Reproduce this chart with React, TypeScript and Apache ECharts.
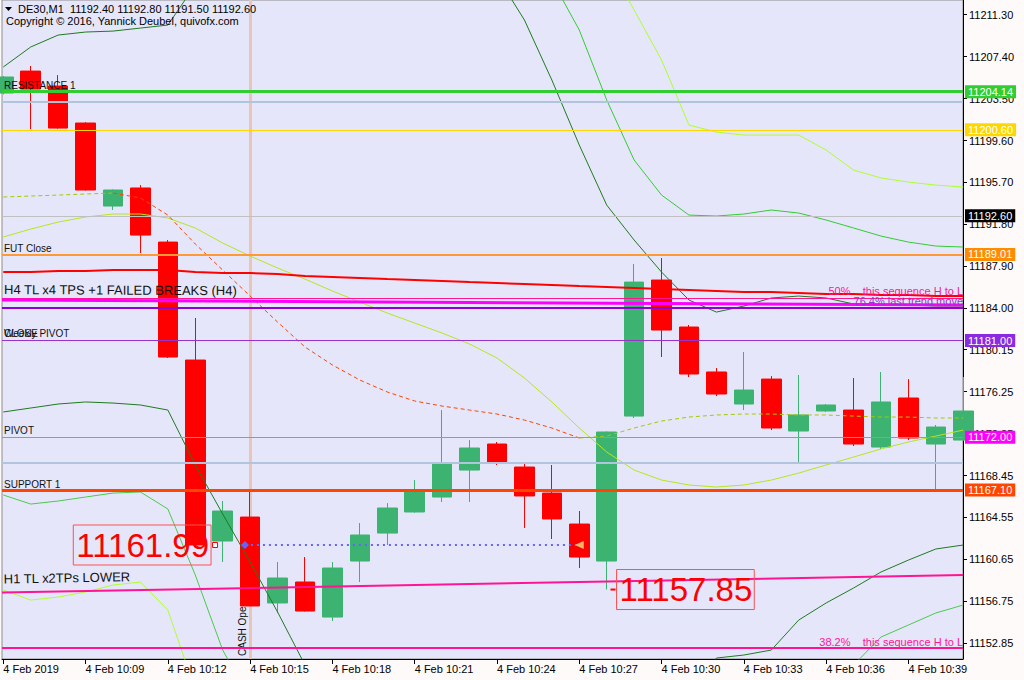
import React, { useEffect, useRef } from "react";
import * as echarts from "echarts";

const FONT = '"Liberation Sans", Arial, Helvetica, sans-serif';

// ---------- axes ----------
const xTickIndex = [0, 3, 6, 9, 12, 15, 18, 21, 24, 27, 30, 33];
const xTickLabels = [
  "4 Feb 2019", "4 Feb 10:09", "4 Feb 10:12", "4 Feb 10:15", "4 Feb 10:18", "4 Feb 10:21",
  "4 Feb 10:24", "4 Feb 10:27", "4 Feb 10:30", "4 Feb 10:33", "4 Feb 10:36", "4 Feb 10:39",
];
const yTickValues = [
  11152.85, 11156.75, 11160.65, 11164.55, 11168.45, 11172.35, 11176.25, 11180.15,
  11184.0, 11187.9, 11191.8, 11195.7, 11199.6, 11203.5, 11207.4, 11211.3,
];
const X_MIN = -0.047;
const X_MAX = 34.99;
const Y_MIN = 11151.39;
const Y_MAX = 11212.67;

// ---------- M1 candles (10:06 .. 10:41) ----------
const opens = [
  11204.02, 11206.06, 11204.67, 11201.23, 11193.51, 11195.19, 11190.16, 11179.19, 11162.36, 11164.59,
  11156.6, 11158.55, 11155.29, 11160.5, 11163.1, 11165.06, 11166.45, 11168.96, 11171.38, 11169.24,
  11166.82, 11163.94, 11160.5, 11173.98, 11186.63, 11182.26, 11178.08, 11175.1, 11177.42, 11172.59,
  11174.45, 11174.54, 11171.1, 11175.66, 11171.38, 11171.75,
];
const closes = [
  11205.51, 11204.39, 11200.76, 11195.0, 11195.0, 11190.81, 11179.47, 11161.99, 11165.15, 11156.32,
  11158.92, 11155.85, 11159.85, 11162.92, 11165.43, 11167.01, 11169.61, 11171.01, 11169.71, 11166.55,
  11164.41, 11160.87, 11172.5, 11186.44, 11181.98, 11177.89, 11176.03, 11176.4, 11172.87, 11174.08,
  11175.01, 11171.38, 11175.29, 11171.94, 11172.96, 11174.45,
];
const lows = [
  11203.9, 11200.67, 11200.7, 11194.95, 11193.14, 11189.14, 11179.38, 11161.8, 11160.41, 11156.3,
  11155.67, 11155.8, 11154.92, 11158.55, 11161.99, 11165.0, 11165.99, 11165.99, 11169.43, 11163.57,
  11162.55, 11159.85, 11157.85, 11173.8, 11179.47, 11177.61, 11175.84, 11174.54, 11172.68, 11169.61,
  11174.36, 11171.19, 11170.92, 11171.75, 11167.01, 11171.7,
];
const highs = [
  11205.6, 11206.53, 11205.69, 11201.3, 11195.05, 11195.46, 11190.35, 11183.1, 11166.08, 11167.01,
  11160.41, 11160.87, 11160.41, 11164.03, 11165.89, 11168.03, 11174.54, 11171.75, 11171.57, 11169.71,
  11169.43, 11165.15, 11172.55, 11188.12, 11188.68, 11182.45, 11178.45, 11179.94, 11177.7, 11177.8,
  11175.1, 11177.52, 11178.08, 11177.42, 11173.15, 11177.61,
];

// ---------- indicator lines (one value per bar) ----------
const bandDarkUpper = [
  11206.44, 11208.3, 11209.41, 11209.69, 11209.78, 11210.06, 11210.34, 11214.06, 11218.25, 11221.97,
  11224.76, 11226.62, 11227.55, 11228.01, 11227.55, 11226.62, 11224.76, 11221.04, 11214.9, 11210.81,
  11205.23, 11199.18, 11193.6, 11190.35, 11187.37, 11184.77, 11183.65, 11184.21, 11184.96, 11185.14,
  11184.96, 11184.4, 11184.31, 11184.31, 11184.21, 11184.21,
];
const bandMidUpper = [
  11215.46, 11216.39, 11217.32, 11217.78, 11218.25, 11219.18, 11221.04, 11224.76, 11228.47, 11231.26,
  11233.12, 11234.05, 11234.52, 11234.52, 11234.05, 11233.12, 11231.26, 11228.47, 11223.83, 11219.18,
  11214.53, 11209.88, 11203.37, 11197.79, 11194.53, 11192.67, 11192.58, 11192.77, 11193.14, 11192.86,
  11192.21, 11191.47, 11190.72, 11190.16, 11189.79, 11189.7,
];
const bandLightUpper = [
  11218.25, 11219.18, 11220.11, 11221.04, 11221.97, 11222.9, 11224.76, 11228.47, 11232.19, 11234.98,
  11236.84, 11237.77, 11238.24, 11238.24, 11237.77, 11236.84, 11235.45, 11233.59, 11230.8, 11227.55,
  11223.83, 11220.11, 11216.39, 11211.74, 11207.09, 11201.04, 11200.39, 11200.11, 11200.11, 11200.11,
  11198.72, 11196.86, 11196.12, 11195.74, 11195.46, 11195.28,
];
const bandDarkLower = [
  11174.36, 11174.73, 11175.1, 11175.29, 11175.19, 11175.01, 11174.54, 11169.43, 11164.87, 11160.41,
  11155.76, 11150.83, 11145.72, 11141.07, 11137.35, 11134.56, 11132.7, 11131.77, 11131.3, 11131.3,
  11131.77, 11132.7, 11138.28, 11142.0, 11144.79, 11148.51, 11151.48, 11151.76, 11152.22, 11155.01,
  11156.6, 11157.99, 11159.48, 11160.59, 11161.62, 11161.99,
];
const bandMidLower = [
  11166.64, 11165.8, 11166.08, 11166.45, 11166.82, 11166.92, 11165.34, 11159.2, 11152.22, 11147.58,
  11143.86, 11140.14, 11137.35, 11135.49, 11134.09, 11133.16, 11132.7, 11132.7, 11133.16, 11133.63,
  11134.56, 11135.49, 11138.28, 11140.14, 11142.0, 11143.86, 11145.72, 11147.11, 11148.51, 11149.43,
  11150.36, 11150.83, 11153.43, 11154.55, 11155.67, 11156.41,
];
const bandLightLower = [
  11157.8, 11156.87, 11157.15, 11157.62, 11158.27, 11158.55, 11155.94, 11148.51, 11142.0, 11138.28,
  11135.49, 11133.63, 11132.23, 11131.3, 11130.84, 11130.37, 11130.37, 11130.84, 11131.3, 11131.77,
  11132.7, 11133.63, 11134.56, 11135.49, 11136.42, 11137.35, 11138.28, 11139.21, 11140.14, 11141.07,
  11142.0, 11142.93, 11143.86, 11144.79, 11145.72, 11146.18,
];
const slowMA = [
  11190.63, 11191.37, 11192.02, 11192.49, 11192.77, 11192.77, 11192.4, 11191.47, 11190.07, 11188.86,
  11187.75, 11186.72, 11185.61, 11184.58, 11183.56, 11182.63, 11181.7, 11180.68, 11179.38, 11177.52,
  11175.29, 11172.87, 11170.64, 11168.96, 11168.03, 11167.57, 11167.38, 11167.57, 11168.03, 11168.68,
  11169.43, 11170.17, 11170.92, 11171.57, 11172.12, 11172.68,
];
const fastMA = [
  11194.35, 11194.44, 11194.53, 11194.63, 11194.72, 11194.26, 11192.67, 11189.98, 11187.56, 11185.14,
  11182.72, 11180.4, 11178.73, 11177.33, 11176.22, 11175.38, 11174.91, 11174.54, 11174.17, 11173.61,
  11172.87, 11171.94, 11172.12, 11172.87, 11173.52, 11173.89, 11174.08, 11174.17, 11174.17, 11174.08,
  11174.08, 11173.98, 11173.89, 11173.89, 11173.8, 11173.8,
];
const fastMAFallFrom = 4;
const fastMAFallTo = 21;
const redMA = [
  11187.37, 11187.37, 11187.47, 11187.47, 11187.56, 11187.56, 11187.56, 11187.37, 11187.28, 11187.28,
  11187.19, 11187.0, 11186.91, 11186.82, 11186.72, 11186.63, 11186.54, 11186.44, 11186.35, 11186.26,
  11186.17, 11186.07, 11185.98, 11185.89, 11185.79, 11185.7, 11185.61, 11185.51, 11185.51, 11185.42,
  11185.33, 11185.33, 11185.24, 11185.24, 11185.14, 11185.14,
];

// ---------- levels / objects ----------
const resistance1 = 11204.14;
const steelLevelHigh = 11203.18;
const goldLevel = 11200.6;
const bidPrice = 11192.6;
const futClose = 11189.01;
const fib50 = 11184.96;
const h4TrendLine = [11184.77, 11184.3];
const fib764 = 11184.07;
const weeklyPivot = 11181.0;
const pivot = 11172.0;
const steelLevelLow = 11169.61;
const support1 = 11167.1;
const h1TrendLine = [11157.57, 11159.2];
const fib382 = 11152.41;
const cashOpenIndex = 9;
const lowLabelA = { index: 7.72, price: 11161.99 };
const lowLabelB = { index: 22.23, price: 11157.85 };
const dottedRange = [8.81, 21.0];

const headerSymbol = "DE30,M1";
const headerOHLC = [11192.4, 11192.8, 11191.5, 11192.6];
const copyright = "Copyright \u00a9 2016, Yannick Deubel, quivofx.com";

function pairs(vals: (number | null)[]) {
  return vals.map((v, i) => [i, v]);
}

function lineSeries(name: string, vals: (number | null)[], color: string, width: number, type: any = "solid") {
  return {
    type: "line",
    name,
    data: pairs(vals),
    symbol: "none",
    showSymbol: false,
    connectNulls: false,
    clip: true,
    z: 3,
    lineStyle: { color, width, type },
    silent: true,
  };
}

function leftLabel(text: string, size = 10, dy = 1) {
  return {
    show: true,
    position: "insideStartTop",
    formatter: text,
    color: "#111",
    fontSize: size,
    fontFamily: FONT,
    distance: [2, dy],
  };
}

function boxLabel(value: number, bg: string) {
  return {
    show: true,
    position: "end",
    formatter: value.toFixed(2),
    color: "#ffffff",
    backgroundColor: bg,
    fontSize: 11,
    fontFamily: FONT,
    lineHeight: 12,
    padding: [1, 3, 0, 3],
    distance: 2,
  };
}

function rightText(text: string, color: string, dy = 1) {
  return {
    show: true,
    position: "insideEndTop",
    formatter: text,
    color,
    fontSize: 11,
    fontFamily: FONT,
    distance: [0, dy],
  };
}

function buildOption() {
  const candleData = opens.map((o, i) => [i, o, closes[i], lows[i], highs[i]]);
  const fallMA = fastMA.map((v, i) => (i >= fastMAFallFrom && i <= fastMAFallTo ? v : null));
  const riseMA = fastMA.map((v, i) => (i <= fastMAFallFrom || i >= fastMAFallTo ? v : null));

  const hl = (value: number, color: string, width: number, label?: any) => ({
    yAxis: value,
    lineStyle: { color, width, type: "solid" },
    label: label || { show: false },
  });

  const levelData: any[] = [
    hl(steelLevelHigh, "#B0C4DE", 2),
    hl(goldLevel, "#FFD700", 1),
    hl(goldLevel, "#FFD700", 1, boxLabel(goldLevel, "#FFD700")),
    hl(bidPrice, "#C0C0C0", 1, boxLabel(bidPrice, "#000000")),
    hl(resistance1, "#32CD32", 3, leftLabel("RESISTANCE 1")),
    hl(resistance1, "#32CD32", 3, boxLabel(resistance1, "#32CD32")),
    hl(futClose, "#FF9933", 2, leftLabel("FUT Close")),
    hl(futClose, "#FF9933", 2, boxLabel(futClose, "#FF8C00")),
    hl(fib50, "#FF1493", 1, rightText("50%    this sequence H to L", "#FF1493", 1)),
    [
      {
        coord: [X_MIN, h4TrendLine[0]],
        lineStyle: { color: "#FF00FF", width: 3, type: "solid" },
        label: leftLabel("H4 TL x4 TPS +1 FAILED BREAKS (H4)", 13, 4),
      },
      { coord: [X_MAX, h4TrendLine[1]] },
    ],
    hl(fib764, "#9400D3", 2, rightText("76.4% last trend move", "#9932CC", 1)),
    hl(weeklyPivot, "#9932CC", 1, leftLabel("Weekly PIVOT", 10, 2)),
    hl(weeklyPivot, "#9932CC", 1, leftLabel("CLOSE", 10, 2)),
    hl(weeklyPivot, "#9932CC", 1, boxLabel(weeklyPivot, "#8A2BE2")),
    hl(pivot, "#E066E0", 1, leftLabel("PIVOT", 10, 2)),
    hl(pivot, "#E066E0", 1, boxLabel(pivot, "#FF00FF")),
    hl(steelLevelLow, "#B0C4DE", 2),
    hl(support1, "#FF4500", 3, leftLabel("SUPPORT 1", 10, 1)),
    hl(support1, "#FF4500", 3, boxLabel(support1, "#FF4500")),
    [
      {
        coord: [X_MIN, h1TrendLine[0]],
        lineStyle: { color: "#FF1493", width: 2, type: "solid" },
        label: leftLabel("H1 TL x2TPs LOWER", 13, 7),
      },
      { coord: [X_MAX, h1TrendLine[1]] },
    ],
    hl(fib382, "#FF1493", 2, rightText("38.2%    this sequence H to L", "#FF1493", 1)),
    [
      {
        coord: [dottedRange[0], lowLabelA.price],
        symbol: "diamond",
        symbolSize: 8,
        lineStyle: { color: "#6464FF", width: 2, type: [2, 4] },
        itemStyle: { color: "#3030FF" },
        label: { show: false },
      },
      { coord: [dottedRange[1], lowLabelA.price], symbol: "none" },
    ],
  ];

  const series: any[] = [
    {
      type: "line",
      name: "cash-open",
      data: [],
      z: 1,
      silent: true,
      markLine: {
        z: 1,
        silent: true,
        symbol: ["none", "none"],
        animation: false,
        data: [
          {
            xAxis: cashOpenIndex,
            lineStyle: { color: "#E9C6B4", width: 3, type: "solid" },
            label: {
              show: true,
              position: "insideStartTop",
              formatter: "CASH Open",
              color: "#111",
              fontSize: 10,
              fontFamily: FONT,
              distance: [3, 3],
            },
          },
        ],
      },
    },
    {
      type: "candlestick",
      name: "DE30",
      data: candleData,
      barWidth: 20,
      clip: true,
      z: 2,
      silent: true,
      itemStyle: {
        color: "#3CB371",
        color0: "#FF0000",
        borderColor: "#3CB371",
        borderColor0: "#FF0000",
        borderWidth: 1,
      },
    },
    lineSeries("band-light-upper", bandLightUpper, "#ADFF2F", 1),
    lineSeries("band-mid-upper", bandMidUpper, "#32CD32", 1),
    lineSeries("band-dark-upper", bandDarkUpper, "#1E7B1E", 1),
    lineSeries("band-dark-lower", bandDarkLower, "#1E7B1E", 1),
    lineSeries("band-mid-lower", bandMidLower, "#4CC94C", 1),
    lineSeries("band-light-lower", bandLightLower, "#ADFF2F", 1),
    lineSeries("slow-ma", slowMA, "#B5E61D", 1),
    lineSeries("fast-ma-fall", fallMA, "#FF4500", 1, [4, 3]),
    lineSeries("fast-ma-rise", riseMA, "#A8C800", 1, [4, 3]),
    lineSeries("red-ma", redMA, "#FF0000", 2),
    {
      type: "line",
      name: "levels",
      data: [],
      z: 4,
      silent: true,
      markLine: {
        z: 4,
        silent: true,
        symbol: ["none", "none"],
        animation: false,
        data: levelData,
      },
    },
    {
      type: "line",
      name: "annotations",
      data: [],
      z: 6,
      silent: true,
      markPoint: {
        z: 6,
        silent: true,
        animation: false,
        data: [
          {
            coord: [lowLabelA.index, lowLabelA.price],
            symbol: "rect",
            symbolSize: 5,
            itemStyle: { color: "#ffffff", borderColor: "#FF0000", borderWidth: 1 },
            label: {
              show: true,
              position: "left",
              distance: 1,
              formatter: lowLabelA.price.toFixed(2),
              color: "#FF0000",
              fontSize: 33,
              fontFamily: FONT,
              lineHeight: 38,
              borderColor: "#FF5050",
              borderWidth: 1,
              padding: [2, 2, 0, 3],
            },
          },
          {
            coord: [lowLabelB.index, lowLabelB.price],
            symbol: "rect",
            symbolSize: [5, 2],
            itemStyle: { color: "#FF0000" },
            label: {
              show: true,
              position: "right",
              distance: 1,
              formatter: lowLabelB.price.toFixed(2),
              color: "#FF0000",
              fontSize: 33,
              fontFamily: FONT,
              lineHeight: 38,
              borderColor: "#FF5050",
              borderWidth: 1,
              padding: [2, 2, 0, 3],
            },
          },
          {
            coord: [dottedRange[1], lowLabelA.price],
            symbol: "triangle",
            symbolRotate: 90,
            symbolSize: [8, 9],
            itemStyle: { color: "#F2B466" },
            label: { show: false },
          },
        ],
      },
    },
  ];

  return {
    animation: false,
    backgroundColor: "#FFFAFA",
    textStyle: { fontFamily: FONT },
    grid: {
      left: 2,
      right: 61,
      top: 0,
      bottom: 21,
      show: true,
      backgroundColor: "#E6E6FA",
      borderColor: "#8C8C8C",
      borderWidth: 1,
    },
    xAxis: {
      type: "value",
      min: X_MIN,
      max: X_MAX,
      position: "bottom",
      axisLine: { show: true, onZero: false, lineStyle: { color: "#000", width: 1 } },
      axisTick: { show: true, length: 5, customValues: xTickIndex, lineStyle: { color: "#000" } },
      splitLine: { show: false },
      axisLabel: {
        show: true,
        customValues: xTickIndex,
        align: "left",
        margin: 4,
        color: "#000",
        fontSize: 11,
        fontFamily: FONT,
        formatter: (v: number) => xTickLabels[xTickIndex.indexOf(Math.round(v))] || "",
      },
    },
    yAxis: {
      type: "value",
      min: Y_MIN,
      max: Y_MAX,
      position: "right",
      axisLine: { show: true, onZero: false, lineStyle: { color: "#000", width: 1 } },
      axisTick: { show: true, length: 4, customValues: yTickValues, lineStyle: { color: "#000" } },
      splitLine: { show: false },
      axisLabel: {
        show: true,
        customValues: yTickValues,
        margin: 6,
        color: "#000",
        fontSize: 11,
        fontFamily: FONT,
        formatter: (v: number) => v.toFixed(2),
      },
    },
    graphic: [
      {
        type: "polygon",
        z: 100,
        shape: { points: [[5, 7], [12, 7], [8.5, 11]] },
        style: { fill: "#000" },
      },
      {
        type: "text",
        z: 100,
        x: 18,
        y: 3,
        style: {
          text: `${headerSymbol}  ${headerOHLC.map((v) => v.toFixed(2)).join(" ")}`,
          font: `11px ${FONT}`,
          fill: "#000",
        },
      },
      {
        type: "text",
        z: 100,
        x: 6,
        y: 15,
        style: { text: copyright, font: `11px ${FONT}`, fill: "#000" },
      },
    ],
    series,
  };
}

export default function App() {
  const ref = useRef<HTMLDivElement>(null);
  useEffect(() => {
    if (!ref.current) return;
    const chart = echarts.init(ref.current, null, { renderer: "svg" });
    chart.setOption(buildOption() as any);
    return () => chart.dispose();
  }, []);
  return (
    <div
      ref={ref}
      style={{ position: "fixed", left: 0, top: 0, width: 1024, height: 680 }}
    />
  );
}
